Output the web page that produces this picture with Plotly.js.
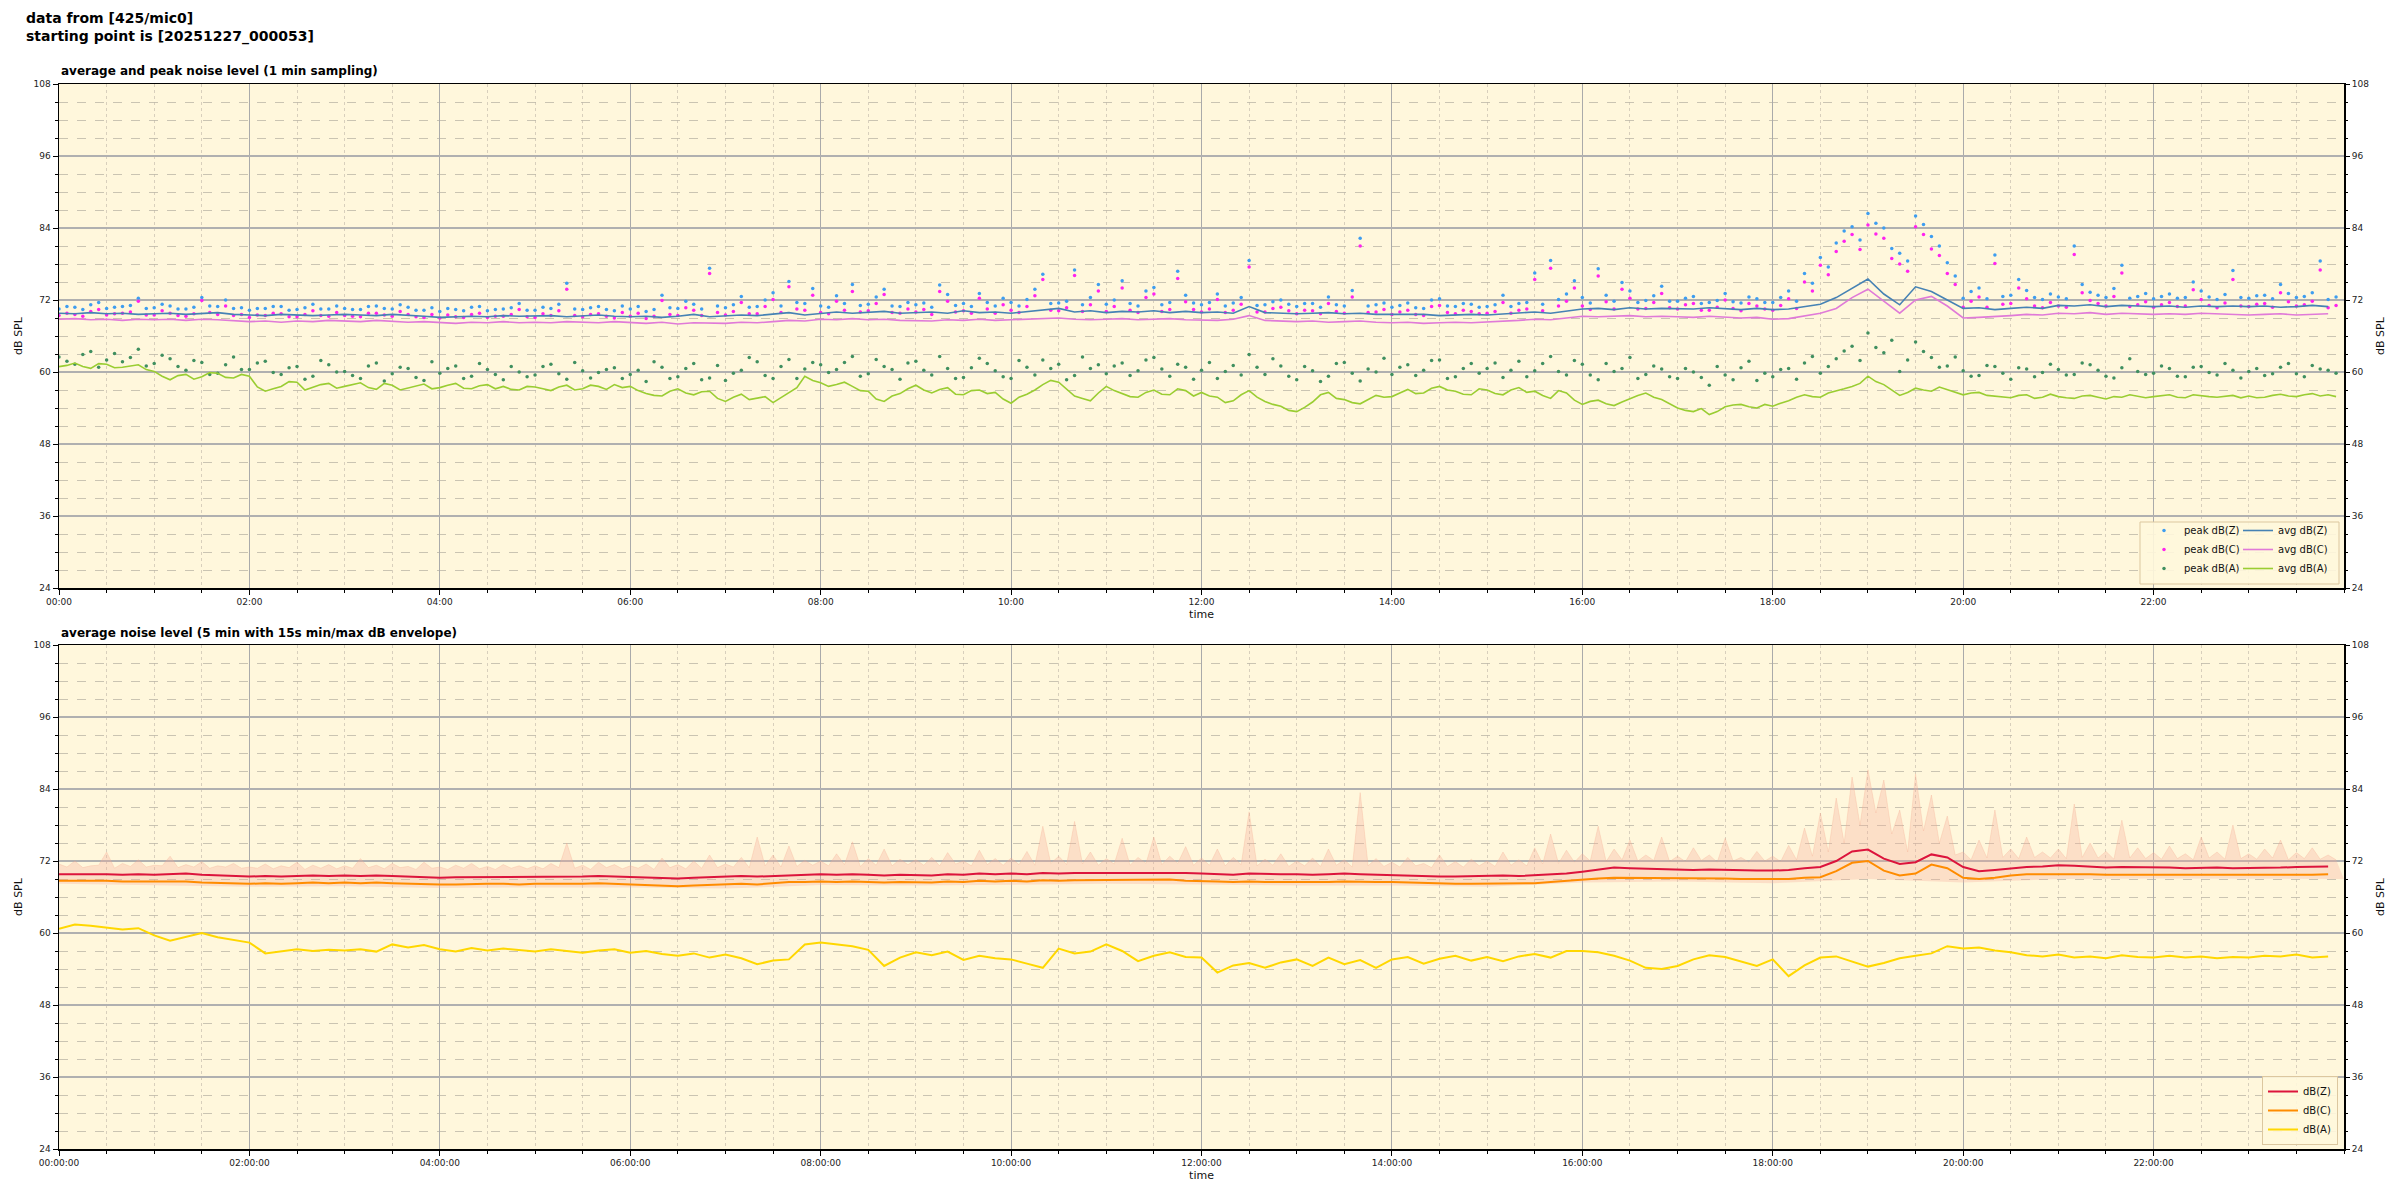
<!DOCTYPE html>
<html><head><meta charset="utf-8">
<script src="https://cdn.plot.ly/plotly-3.0.1.min.js"></script>
<style>body{margin:0;background:#fff}#chart{width:2400px;height:1200px}</style>
</head><body><div id="chart"></div>
<script>
// ---- tick labels ----
const hourTickVals = [0,2,4,6,8,10,12,14,16,18,20,22];
const hourLabels = ["00:00","02:00","04:00","06:00","08:00","10:00","12:00","14:00","16:00","18:00","20:00","22:00"];
const hourLabelsSec = ["00:00:00","02:00:00","04:00:00","06:00:00","08:00:00","10:00:00","12:00:00","14:00:00","16:00:00","18:00:00","20:00:00","22:00:00"];

// ---- top plot: 1 min sampling (read every 10 min, plus the 5-min offsets for the noisy series) ----
const avgZ = [
69.8,69.7,69.9,69.7,69.8,69.6, 69.7,69.8,69.6,69.7,69.9,69.6, 69.5,69.4,69.6,69.5,69.4,69.5, 69.6,69.5,69.4,69.6,69.5,69.3,
69.1,69.2,69.3,69.2,69.4,69.3, 69.3,69.4,69.2,69.3,69.5,69.3, 69.2,69.3,69.1,69.3,69.6,69.2, 69.3,69.5,69.4,69.6,69.9,69.5,
69.8,70.0,69.8,69.9,70.1,69.8, 69.9,70.0,69.8,70.2,69.9,70.0, 69.8,70.1,70.3,70.6,70.0,70.2, 69.9,70.1,70.0,70.2,69.9,70.1,
69.9,70.0,69.8,70.9,69.9,69.8, 69.7,69.8,69.9,69.7,69.8,69.6, 69.6,69.5,69.6,69.4,69.5,69.6, 69.5,69.7,69.9,70.0,69.8,70.1,
70.5,70.6,70.4,70.7,70.5,70.6, 70.6,70.5,70.7,70.5,70.4,70.6, 70.4,70.5,70.9,71.3,72.4,74.0, 75.5,73.0,71.2,74.2,73.4,72.0,
70.6,70.7,70.4,70.6,70.8,70.6, 71.1,71.0,71.2,70.9,71.1,71.0, 70.9,71.0,70.8,71.0,70.9,71.0, 70.9,71.0,70.8,70.9,71.1,70.9];
const avgC = [
68.8,68.9,68.7,68.8,68.6,68.8, 68.7,68.8,68.6,68.8,68.7,68.5, 68.4,68.5,68.3,68.5,68.4,68.6, 68.5,68.4,68.6,68.5,68.3,68.4,
68.2,68.1,68.3,68.2,68.4,68.2, 68.3,68.2,68.4,68.3,68.2,68.4, 68.2,68.1,68.3,68.0,68.2,68.1, 68.1,68.3,68.2,68.4,68.6,68.5,
68.8,68.7,68.9,68.7,68.8,68.6, 68.6,68.5,68.7,68.6,68.8,68.6, 68.7,68.8,68.9,69.0,68.8,68.7, 68.8,68.9,68.7,68.8,68.9,68.7,
68.7,68.6,68.8,69.4,68.6,68.5, 68.4,68.5,68.3,68.4,68.5,68.3, 68.2,68.3,68.1,68.2,68.3,68.2, 68.3,68.4,68.6,68.8,68.7,69.0,
69.3,69.2,69.3,69.4,69.2,69.3, 69.2,69.1,69.3,69.2,69.0,69.1, 68.8,68.9,69.3,69.8,70.6,72.4, 73.8,71.8,69.8,72.0,72.6,71.0,
69.0,69.1,69.2,69.4,69.6,69.5, 69.8,69.7,69.9,69.6,69.8,69.7, 69.6,69.7,69.6,69.8,69.7,69.6, 69.5,69.6,69.7,69.5,69.6,69.7];
const avgA = [
60.9,61.5,60.6,61.3,60.8,61.2, 60.1,58.7,59.6,59.2,59.8,59.0, 59.3,56.8,57.6,58.3,57.4,58.1, 57.6,58.2,57.1,57.8,57.3,58.0,
57.4,58.1,57.2,57.9,57.6,57.0, 57.5,56.9,57.8,57.2,57.6,57.9, 57.6,56.4,56.0,57.2,56.2,56.8, 55.1,56.3,55.6,54.9,56.5,59.3,
58.2,57.9,57.6,56.8,55.1,56.4, 57.8,56.5,57.4,56.2,57.0,56.6, 54.8,56.3,57.9,58.3,56.0,55.2, 57.6,56.4,55.8,57.0,56.2,56.9,
56.6,55.8,55.2,56.9,55.1,54.3, 53.4,55.0,56.6,55.4,54.7,56.1, 55.9,57.1,56.5,57.6,56.8,56.2, 57.0,56.2,57.4,56.8,55.6,56.5,
54.6,55.3,54.4,55.6,56.5,55.4, 54.0,53.4,52.9,54.2,54.6,54.0, 54.3,55.2,56.2,55.8,56.8,57.6, 59.3,57.9,56.1,57.3,56.8,57.1,
56.2,56.6,56.0,55.7,56.2,55.8, 55.9,55.6,56.1,55.5,55.8,56.0, 55.9,56.2,55.7,56.0,55.8,56.1, 56.0,55.8,56.3,55.9,56.4,56.2];
const avgAOdd = [
61.1,60.9,61.4,60.7,61.0,60.4, 59.3,59.4,58.8,59.9,59.1,59.6, 57.5,57.2,58.4,57.0,57.9,57.3, 57.9,57.4,58.1,57.0,57.7,57.2,
57.8,57.3,57.7,57.2,57.1,57.6, 57.2,57.5,57.0,57.8,57.1,57.4, 56.9,56.1,56.8,56.5,56.7,55.6, 55.8,55.4,55.9,55.7,57.4,58.6,
57.6,58.3,56.9,55.5,56.0,57.2, 57.0,57.1,56.3,56.9,56.4,55.5, 55.8,57.0,58.6,57.1,55.6,56.5, 56.9,55.9,56.6,56.3,57.2,56.0,
56.0,54.9,56.2,55.8,54.6,53.6, 54.1,56.2,55.6,54.9,55.4,55.8, 56.5,56.4,57.3,57.0,56.3,57.2, 56.4,57.0,56.6,56.1,56.9,55.3,
55.1,54.7,55.0,56.1,55.8,54.7, 53.6,53.9,53.4,54.5,54.2,54.6, 54.8,55.8,55.9,56.5,57.2,58.1, 58.4,57.0,56.6,57.0,57.5,56.6,
56.5,56.1,55.8,56.1,55.6,56.3, 55.7,56.0,55.8,55.9,56.2,55.7, 56.0,55.8,56.2,55.9,56.0,55.7, 55.7,56.1,56.0,56.2,56.0,55.9];
const peakZ = [
70.5,70.8,71.2,70.6,70.9,72.3, 70.7,71.0,70.5,72.4,70.9,70.6, 70.3,70.6,70.9,70.4,71.3,70.5, 70.6,70.4,71.0,70.5,70.8,70.3,
70.1,70.4,70.8,70.2,70.5,71.4, 70.3,70.6,74.8,70.4,70.9,70.2, 70.5,70.1,72.8,70.6,71.3,77.3, 70.7,72.6,70.9,73.2,75.1,71.4,
71.0,72.7,74.6,71.3,73.8,70.9, 71.2,70.8,72.9,71.4,73.1,71.0, 71.6,72.1,76.3,71.5,77.0,72.4, 71.3,75.2,71.0,74.1,71.6,72.8,
71.2,73.0,71.5,78.6,71.2,72.0, 70.9,71.4,72.5,71.0,82.3,71.2, 70.8,71.5,70.6,72.2,70.9,71.3, 70.9,72.8,71.4,76.5,78.6,73.0,
72.4,77.2,71.8,73.5,71.9,74.3, 71.8,72.6,71.6,73.1,71.5,72.2, 71.6,73.5,76.4,79.1,81.5,84.2, 86.4,84.0,79.8,86.0,82.6,78.2,
72.3,74.0,79.5,72.8,73.6,72.1, 72.5,81.0,73.3,72.4,77.8,72.6, 72.2,73.0,72.4,73.5,72.1,76.9, 72.3,72.8,74.6,72.4,73.2,72.1];
const peakZOdd = [
70.9,70.4,71.6,70.8,71.1,70.6, 71.3,70.5,70.8,71.0,72.0,70.7, 70.6,70.9,70.3,70.7,70.5,71.0, 70.4,70.9,70.6,71.2,70.3,70.7,
70.6,70.2,70.9,70.4,70.7,70.3, 70.8,71.3,70.5,70.7,70.4,71.0, 70.9,70.4,70.7,71.8,70.5,71.0, 71.2,70.8,72.0,71.0,71.6,73.9,
70.8,71.4,71.1,72.5,71.0,71.6, 71.5,74.5,71.1,70.9,71.6,72.3, 71.0,73.8,71.4,71.8,71.2,74.6, 72.0,71.4,73.5,71.2,76.8,71.5,
71.6,71.0,72.4,71.1,71.7,71.3, 71.4,70.8,71.2,73.6,71.0,71.5, 71.1,70.7,72.0,71.0,71.4,70.8, 71.2,70.9,71.6,71.3,72.1,75.2,
71.5,72.8,74.9,71.6,72.7,71.8, 72.3,71.4,71.9,71.7,72.5,71.6, 72.4,71.8,74.8,77.5,83.5,82.0, 84.8,80.6,78.5,84.6,81.0,76.0,
73.4,72.2,72.6,75.4,72.4,73.0, 72.2,74.6,72.8,73.9,72.3,73.1, 72.6,72.3,75.0,72.5,72.9,72.4, 72.7,72.2,73.1,72.6,78.5,72.5];
const peakC = [
69.4,69.6,70.1,69.5,69.8,71.8, 69.5,69.8,69.3,71.9,69.6,69.4, 69.1,69.4,69.7,69.2,70.2,69.3, 69.4,69.2,69.8,69.3,69.6,69.1,
69.0,69.2,69.6,69.1,69.3,70.4, 69.1,69.4,73.8,69.2,69.7,69.0, 69.3,68.9,71.9,69.4,70.3,76.4, 69.5,71.6,69.7,72.1,74.2,70.3,
69.9,71.8,73.4,70.2,72.9,69.8, 70.0,69.6,71.8,70.2,72.3,69.8, 70.3,70.9,75.4,70.2,76.1,71.2, 70.1,74.0,69.9,73.0,70.4,71.7,
70.0,72.1,70.3,77.5,70.0,70.8, 69.7,70.2,71.4,69.8,81.0,70.0, 69.6,70.3,69.4,71.1,69.7,70.1, 69.8,71.6,70.3,75.4,77.3,71.8,
71.0,76.0,70.5,72.3,70.6,73.1, 70.5,71.4,70.3,72.0,70.2,71.0, 70.3,72.2,75.0,77.8,80.1,82.9, 84.5,82.3,78.0,84.2,80.5,76.4,
70.8,72.5,78.1,71.4,72.2,70.7, 71.0,79.6,71.9,71.0,76.5,71.2, 70.8,71.6,71.0,72.1,70.7,75.4, 70.9,71.4,73.2,71.0,71.8,70.7];
const peakCOdd = [
69.8,69.3,70.4,69.7,70.0,69.5, 70.2,69.4,69.7,69.9,71.0,69.6, 69.5,69.8,69.2,69.6,69.4,69.9, 69.3,69.8,69.5,70.1,69.2,69.6,
69.5,69.1,69.8,69.3,69.6,69.2, 69.7,70.2,69.4,69.6,69.3,69.9, 69.8,69.3,69.6,70.7,69.4,69.9, 70.1,69.7,70.9,69.9,70.5,72.8,
69.7,70.3,70.0,71.4,69.9,70.5, 70.4,73.4,70.0,69.8,70.5,71.2, 69.9,72.7,70.3,70.7,70.1,73.5, 70.9,70.3,72.4,70.1,75.6,70.4,
70.5,69.9,71.3,70.0,70.6,70.2, 70.3,69.7,70.1,72.5,69.9,70.4, 70.0,69.6,70.9,69.9,70.3,69.7, 70.1,69.8,70.5,70.2,71.0,74.0,
70.4,71.7,73.8,70.5,71.6,70.7, 71.2,70.3,70.8,70.6,71.4,70.5, 71.1,70.6,73.5,76.2,81.8,80.4, 83.0,78.9,76.8,82.9,79.4,74.6,
71.8,70.8,71.3,74.0,71.0,71.6, 70.8,73.2,71.4,72.6,70.9,71.7, 71.2,70.9,73.7,71.1,71.5,71.0, 71.3,70.8,71.7,71.2,77.0,71.1];
const peakA = [
62.5,61.3,63.4,62.0,61.7,63.8, 61.4,62.2,60.3,61.6,59.8,62.5, 60.4,61.8,59.6,60.9,59.3,61.2, 60.1,58.9,61.5,59.7,60.6,58.6,
59.8,61.0,59.3,60.4,58.7,60.0, 59.5,61.3,58.8,60.2,59.9,60.7, 59.6,58.4,60.8,59.2,61.4,59.0, 58.6,60.3,61.7,58.9,62.1,60.5,
61.2,60.4,62.6,59.7,60.9,58.8, 61.8,59.5,60.6,59.1,62.3,60.2, 58.9,60.8,62.0,61.3,59.4,60.6, 59.7,61.5,60.2,62.4,59.3,60.8,
60.3,58.9,61.1,62.9,59.6,61.0, 58.7,60.2,59.3,61.6,58.5,60.0, 59.6,61.2,60.3,62.0,59.2,61.4, 60.6,59.1,61.8,60.2,62.6,59.5,
61.3,58.7,60.1,62.4,59.6,60.5, 58.9,60.0,57.8,59.5,60.7,58.6, 59.2,60.6,61.5,59.8,62.2,64.3, 66.5,63.2,60.1,65.0,62.4,61.0,
60.2,59.4,60.9,58.8,60.5,59.9, 60.4,59.6,61.2,59.3,60.7,60.1, 59.8,60.6,59.2,60.9,59.5,60.3, 60.1,59.4,60.8,59.7,61.1,60.3];
const peakAOdd = [
61.8,62.9,60.8,63.1,62.4,61.0, 62.8,60.9,61.9,59.6,61.2,60.4, 61.5,59.9,60.7,58.8,61.9,60.0, 59.4,61.0,58.5,60.8,59.1,61.7,
60.6,58.9,61.4,59.6,60.9,59.2, 60.9,59.7,61.6,59.0,60.4,58.9, 60.3,61.7,58.9,60.6,58.7,61.1, 59.8,62.4,59.4,60.9,58.9,61.6,
59.9,61.6,59.3,62.1,60.4,61.5, 60.3,62.6,58.9,60.7,61.4,59.2, 61.9,59.5,60.6,58.7,62.5,61.2, 61.0,59.4,62.0,60.5,61.3,58.8,
61.6,60.1,59.5,60.8,62.2,59.3, 60.9,58.4,61.4,59.8,60.5,62.3, 60.8,59.4,61.9,58.9,60.6,59.8, 61.5,60.3,59.2,61.4,60.1,61.9,
59.5,61.4,60.6,58.9,61.0,59.2, 60.6,59.1,60.9,58.7,61.8,59.8, 60.4,58.8,62.6,60.9,63.5,61.9, 64.1,65.3,62.0,63.4,60.8,62.5,
59.3,61.1,59.8,60.7,59.2,61.3, 59.5,61.5,60.3,59.0,62.2,59.6, 61.0,59.3,60.8,59.9,61.4,59.0, 60.6,59.7,61.4,59.2,60.5,59.8];

// ---- bottom plot: 5 min averages (read every 10 min) ----
const dbZ = [
69.8,69.8,69.9,69.8,69.7,69.8, 69.7,69.8,69.9,69.7,69.6,69.5, 69.4,69.5,69.4,69.5,69.6,69.5, 69.6,69.5,69.6,69.5,69.4,69.3,
69.2,69.3,69.3,69.4,69.4,69.3, 69.4,69.4,69.3,69.4,69.5,69.4, 69.4,69.3,69.2,69.1,69.2,69.3, 69.4,69.5,69.4,69.5,69.7,69.7,
69.8,69.7,69.8,69.7,69.6,69.7, 69.7,69.6,69.8,69.7,69.9,69.8, 69.9,69.8,70.0,69.9,70.0,70.0, 70.0,70.1,70.0,70.1,70.1,70.0,
69.9,69.8,69.7,69.9,69.8,69.8, 69.8,69.7,69.8,69.9,69.8,69.7, 69.7,69.6,69.5,69.4,69.4,69.5, 69.5,69.6,69.5,69.6,69.7,69.9,
70.2,70.6,70.9,70.8,70.7,70.6, 70.6,70.5,70.6,70.5,70.4,70.4, 70.4,70.5,70.8,71.0,72.0,73.6, 73.9,72.4,71.5,71.8,73.1,72.6,
71.0,70.3,70.5,70.8,71.0,71.1, 71.3,71.2,71.0,70.9,71.0,71.0, 70.9,70.9,70.8,70.9,70.9,70.8, 70.8,70.9,70.9,71.0,71.0,71.1];
const dbC = [
68.7,68.7,68.8,68.7,68.6,68.6, 68.6,68.5,68.6,68.4,68.3,68.3, 68.2,68.3,68.2,68.3,68.4,68.3, 68.4,68.3,68.4,68.3,68.2,68.1,
68.1,68.1,68.2,68.2,68.2,68.1, 68.2,68.2,68.1,68.2,68.3,68.2, 68.2,68.1,68.0,67.8,67.9,68.0, 68.1,68.2,68.1,68.3,68.5,68.5,
68.6,68.5,68.6,68.5,68.4,68.5, 68.5,68.4,68.6,68.5,68.7,68.6, 68.7,68.6,68.8,68.7,68.8,68.8, 68.8,68.9,68.8,68.8,68.9,68.7,
68.7,68.6,68.5,68.6,68.5,68.5, 68.5,68.4,68.5,68.6,68.5,68.5, 68.5,68.4,68.3,68.2,68.2,68.2, 68.2,68.3,68.3,68.3,68.5,68.7,
69.0,69.1,69.2,69.2,69.1,69.2, 69.2,69.1,69.2,69.1,69.0,69.0, 68.9,69.0,69.2,69.3,70.3,71.7, 72.0,70.4,69.6,69.9,71.4,70.8,
69.2,69.0,69.2,69.6,69.8,69.8, 69.9,69.9,69.8,69.7,69.7,69.7, 69.7,69.7,69.6,69.7,69.7,69.6, 69.6,69.7,69.7,69.7,69.7,69.8];
const dbA = [
60.7,61.4,61.2,60.9,60.6,60.8, 59.6,58.7,59.4,60.0,59.3,58.9, 58.4,56.6,56.9,57.3,57.0,57.2, 57.1,57.3,56.9,58.1,57.6,58.0,
57.3,56.9,57.5,57.1,57.4,57.2, 56.9,57.3,57.0,56.7,57.1,57.3, 56.7,57.0,56.5,56.2,56.6,55.9, 56.4,55.8,54.8,55.4,55.6,58.1,
58.4,58.1,57.8,57.2,54.5,55.9, 56.8,56.3,56.9,55.5,56.2,55.8, 55.6,54.9,54.2,57.4,56.6,56.9, 58.1,57.0,55.3,56.2,56.8,56.0,
55.9,53.4,54.6,55.0,54.2,55.1, 55.6,54.5,55.9,54.8,55.5,54.2, 55.6,56.0,54.9,55.7,56.2,55.4, 56.0,55.3,56.1,56.5,55.9,57.0,
57.0,56.8,56.2,55.4,54.2,54.0, 54.5,55.6,56.3,56.0,55.2,54.5, 55.6,52.8,54.6,55.9,56.1,55.2, 54.4,55.0,55.8,56.2,56.6,57.8,
57.4,57.6,57.1,56.8,56.3,56.1, 56.4,55.9,56.1,55.8,56.3,56.0, 55.9,56.2,55.9,56.1,55.8,56.0, 55.9,56.2,56.1,56.4,55.9,56.1];
// 15 s max envelope (read every 10 min and at the 5-min offsets) and min envelope (read hourly)
const envMax = [
71.5,72.0,71.2,73.5,71.6,72.2, 71.3,72.8,71.4,71.9,71.2,71.6, 71.0,71.5,71.2,71.8,71.3,71.4, 71.2,72.4,71.3,71.6,71.1,71.8,
71.0,71.3,71.6,71.1,71.4,71.2, 71.2,71.6,75.0,71.3,71.8,71.4, 71.2,71.5,72.5,71.4,72.0,73.0, 71.5,72.6,76.0,73.0,74.5,72.1,
72.0,73.2,75.2,72.4,74.0,72.3, 72.2,72.6,73.4,72.0,73.8,72.4, 72.5,73.6,77.8,72.8,78.6,73.5, 72.4,75.8,72.6,76.0,72.8,74.4,
72.5,74.0,72.6,80.2,72.3,73.2, 72.0,72.5,74.0,72.2,83.4,72.4, 71.8,72.6,71.6,73.0,71.9,72.3, 72.0,73.5,72.2,74.2,76.5,73.8,
73.2,77.8,74.0,75.5,73.0,76.0, 72.8,74.2,73.0,75.8,72.6,73.6, 72.8,74.6,77.5,80.0,82.5,86.0, 87.2,85.5,80.5,86.5,83.0,79.5,
73.5,75.5,80.5,74.0,76.0,73.5, 74.0,81.5,75.0,73.6,78.8,74.2, 73.4,74.5,73.2,76.0,73.5,78.0, 73.2,74.0,75.5,73.4,74.2,73.0];
const envMaxOdd = [
71.0,70.9,71.3,70.8,71.1,71.0, 71.2,70.9,71.0,70.8,71.0,70.8, 70.8,70.7,70.9,70.6,70.8,70.7, 70.8,70.9,70.7,70.9,70.6,70.8,
70.6,70.8,70.7,70.6,70.8,70.7, 70.7,70.9,70.8,70.6,70.9,70.7, 70.8,70.6,70.9,70.7,70.8,70.9, 71.0,70.9,71.2,71.0,71.1,71.3,
71.2,71.4,71.1,71.3,71.2,71.4, 71.3,71.2,71.5,71.2,71.4,71.3, 71.4,71.3,71.6,71.4,71.5,71.3, 71.5,71.3,71.6,71.4,71.6,71.3,
71.3,71.2,71.4,71.2,71.3,71.1, 71.2,71.1,71.3,71.0,71.2,71.1, 71.0,71.2,70.9,71.1,71.0,71.2, 71.1,71.3,71.2,71.5,71.6,71.8,
72.0,71.9,72.2,72.0,72.1,71.9, 71.9,72.1,71.8,72.0,71.8,72.0, 71.9,72.2,72.8,73.5,75.0,78.0, 80.0,76.5,73.5,77.0,75.0,73.0,
72.2,72.5,72.6,72.4,72.6,72.5, 72.4,72.6,72.5,72.3,72.5,72.4, 72.3,72.4,72.2,72.5,72.3,72.4, 72.3,72.5,72.2,72.4,72.3,72.2];
const envMin = [68.2,68.0,67.7,67.8,67.5,67.6,67.6,67.4,68.0,67.9,68.1,68.2,68.1,67.9,67.9,67.7,68.4,68.6,68.3,69.0,68.4,69.0,69.1,69.0,69.0];

// sample times (hours) from the sampling intervals
const tTen = avgZ.map((_, i) => i / 6);
const tOdd = avgZ.map((_, i) => i / 6 + 1 / 12);
const tHour = envMin.map((_, i) => i);
const interleave = (a, b) => a.flatMap((v, i) => [v, b[i]]);
const tFive = interleave(tTen, tOdd);

const FONT = "DejaVu Sans";
const axisX = (labels) => ({
  range: [0, 24], tickmode: "array", tickvals: hourTickVals, ticktext: labels,
  ticks: "outside", ticklen: 5, tickcolor: "#000", tickfont: {family: FONT, size: 9, color: "#222"},
  showline: true, linecolor: "#000", linewidth: 1.5, mirror: true, zeroline: false,
  showgrid: true, gridcolor: "#aaaaaa", gridwidth: 1,
  minor: {tickmode: "linear", tick0: 0, dtick: 0.5, ticks: "outside", ticklen: 3, tickcolor: "#000",
          showgrid: true, gridcolor: "#d8cfbc", griddash: "dot", gridwidth: 1},
  title: {text: "time", font: {family: FONT, size: 11, color: "#111"}, standoff: 4}
});
const axisY = (dom) => ({
  domain: dom, range: [24, 108], tickmode: "linear", tick0: 24, dtick: 12,
  ticks: "outside", ticklen: 5, tickcolor: "#000", tickfont: {family: FONT, size: 9, color: "#222"},
  showline: true, linecolor: "#000", linewidth: 1.5, mirror: true, zeroline: false,
  showgrid: true, gridcolor: "#b0b0b0", gridwidth: 1.6,
  minor: {tickmode: "linear", tick0: 24, dtick: 3, ticks: "outside", ticklen: 3, tickcolor: "#000",
          showgrid: true, gridcolor: "#bdb6a8", griddash: "dash", gridwidth: 0.8},
  title: {text: "dB SPL", font: {family: FONT, size: 11, color: "#111"}, standoff: 8}
});
const axisYR = (over, anch) => ({
  overlaying: over, anchor: anch, side: "right", range: [24, 108], tickmode: "linear", tick0: 24, dtick: 12,
  ticks: "outside", ticklen: 5, tickcolor: "#000", tickfont: {family: FONT, size: 9, color: "#222"},
  showgrid: false, zeroline: false, showline: false,
  minor: {tickmode: "linear", tick0: 24, dtick: 3, ticks: "outside", ticklen: 3, tickcolor: "#000", showgrid: false},
  title: {text: "dB SPL", font: {family: FONT, size: 11, color: "#111"}, standoff: 8}
});

const traces = [
  {x: tTen.concat(tOdd), y: peakZ.concat(peakZOdd), type: "scatter", mode: "markers", name: "peak dB(Z)", marker: {color: "#3d9df0", size: 3.5}, xaxis: "x", yaxis: "y", legend: "legend"},
  {x: tTen.concat(tOdd), y: peakC.concat(peakCOdd), type: "scatter", mode: "markers", name: "peak dB(C)", marker: {color: "#ff22ee", size: 3.5}, xaxis: "x", yaxis: "y", legend: "legend"},
  {x: tTen.concat(tOdd), y: peakA.concat(peakAOdd), type: "scatter", mode: "markers", name: "peak dB(A)", marker: {color: "#3f8f5f", size: 3.5}, xaxis: "x", yaxis: "y", legend: "legend"},
  {x: tTen, y: avgZ, type: "scatter", mode: "lines", name: "avg dB(Z)", line: {color: "#4682b4", width: 1.6}, xaxis: "x", yaxis: "y", legend: "legend2"},
  {x: tTen, y: avgC, type: "scatter", mode: "lines", name: "avg dB(C)", line: {color: "#e07ad8", width: 1.6}, xaxis: "x", yaxis: "y", legend: "legend2"},
  {x: tFive, y: interleave(avgA, avgAOdd), type: "scatter", mode: "lines", name: "avg dB(A)", line: {color: "#9acd32", width: 1.6}, xaxis: "x", yaxis: "y", legend: "legend2"},
  {x: [], y: [], type: "scatter", xaxis: "x", yaxis: "y3", showlegend: false},
  {x: tHour, y: envMin, type: "scatter", mode: "lines", line: {width: 0, color: "rgba(0,0,0,0)"}, showlegend: false, xaxis: "x2", yaxis: "y2", hoverinfo: "skip"},
  {x: tFive, y: interleave(envMax, envMaxOdd), type: "scatter", mode: "lines", fill: "tonexty", fillcolor: "rgba(247,175,155,0.32)", line: {width: 0.6, color: "rgba(245,165,140,0.45)"}, showlegend: false, xaxis: "x2", yaxis: "y2", hoverinfo: "skip"},
  {x: tTen, y: dbZ, type: "scatter", mode: "lines", name: "dB(Z)", line: {color: "#dc143c", width: 2}, xaxis: "x2", yaxis: "y2", legend: "legend3"},
  {x: tTen, y: dbC, type: "scatter", mode: "lines", name: "dB(C)", line: {color: "#ff8c00", width: 2}, xaxis: "x2", yaxis: "y2", legend: "legend3"},
  {x: tTen, y: dbA, type: "scatter", mode: "lines", name: "dB(A)", line: {color: "#ffd700", width: 2}, xaxis: "x2", yaxis: "y2", legend: "legend3"},
  {x: [], y: [], type: "scatter", xaxis: "x2", yaxis: "y4", showlegend: false}
];

const xd = [59/2400, 2344/2400];
const legendBase = {font: {family: FONT, size: 10, color: "#111"}, bgcolor: "rgba(0,0,0,0)", borderwidth: 0,
  xanchor: "left", yanchor: "bottom", tracegroupgap: 0, itemwidth: 30, traceorder: "normal"};
const layout = {
  width: 2400, height: 1200, paper_bgcolor: "#ffffff", plot_bgcolor: "#fff7dc",
  margin: {l: 0, r: 0, t: 0, b: 0}, showlegend: true,
  xaxis: Object.assign(axisX(hourLabels), {domain: xd, anchor: "y"}),
  yaxis: Object.assign(axisY([0.51, 0.93]), {anchor: "x"}),
  yaxis3: axisYR("y", "x"),
  xaxis2: Object.assign(axisX(hourLabelsSec), {domain: xd, anchor: "y2"}),
  yaxis2: Object.assign(axisY([0.0425, 0.4625]), {anchor: "x2"}),
  yaxis4: axisYR("y2", "x2"),
  legend: Object.assign({}, legendBase, {x: 2144/2400, y: 1 - 583/1200}),
  legend2: Object.assign({}, legendBase, {x: 2238/2400, y: 1 - 583/1200}),
  legend3: Object.assign({}, legendBase, {x: 2338/2400, y: 1 - 1145/1200, xanchor: "right",
    bgcolor: "rgba(255,247,220,0.9)", bordercolor: "#dcc79f", borderwidth: 1}),
  shapes: [
    {type: "rect", xref: "paper", yref: "paper", x0: 2140/2400, x1: 2339/2400, y0: 1 - 584/1200, y1: 1 - 522/1200,
     fillcolor: "rgba(255,247,220,0.9)", line: {color: "#dcc79f", width: 1}, layer: "above"}
  ],
  annotations: [
    {xref: "paper", yref: "paper", x: 24/2400, y: 1 - 8/1200, xanchor: "left", yanchor: "top", align: "left",
     showarrow: false, text: "<b>data from [425/mic0]<br>starting point is [20251227_000053]</b>",
     font: {family: FONT, size: 14, color: "#000"}},
    {xref: "paper", yref: "paper", x: 59/2400, y: 1 - 71/1200, xanchor: "left", yanchor: "middle",
     showarrow: false, text: "<b>average and peak noise level (1 min sampling)</b>", font: {family: FONT, size: 12, color: "#000"}},
    {xref: "paper", yref: "paper", x: 59/2400, y: 1 - 633/1200, xanchor: "left", yanchor: "middle",
     showarrow: false, text: "<b>average noise level (5 min with 15s min/max dB envelope)</b>", font: {family: FONT, size: 12, color: "#000"}}
  ]
};
Plotly.newPlot("chart", traces, layout, {staticPlot: true});
</script></body></html>
